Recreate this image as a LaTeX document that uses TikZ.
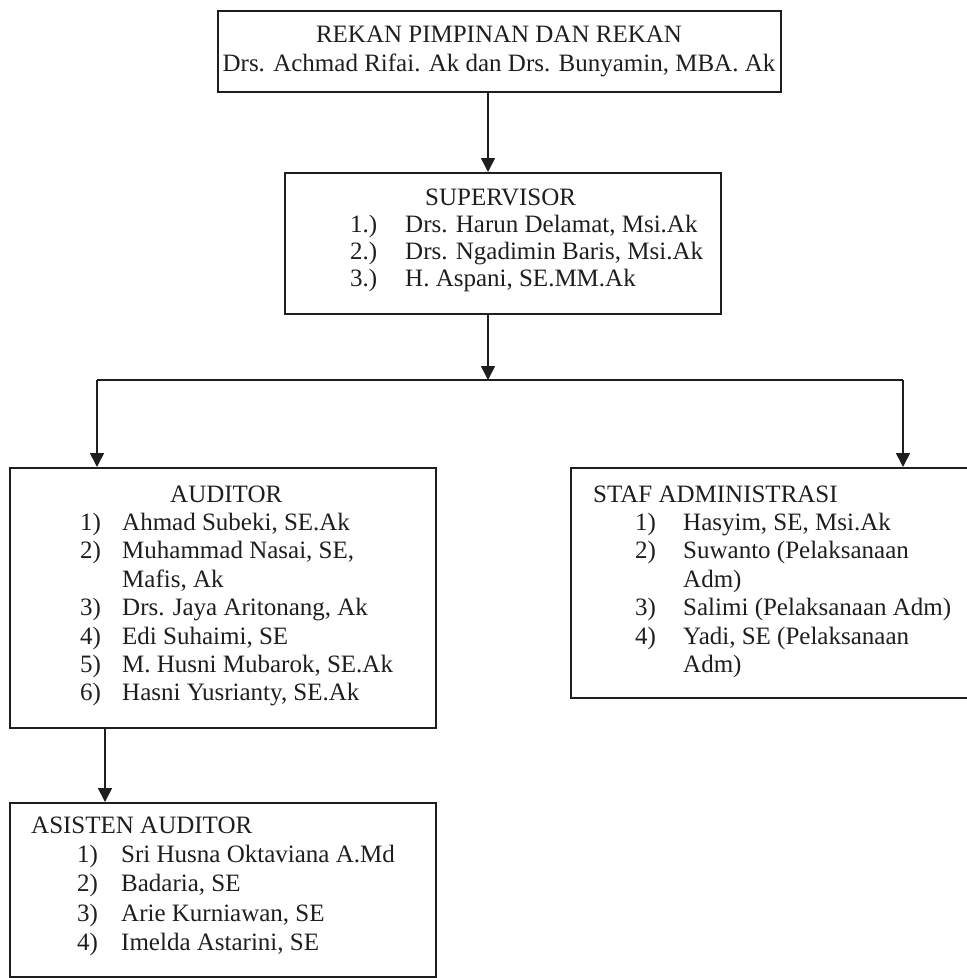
\documentclass[tikz,border=0pt]{standalone}
\usepackage{fontspec}
\setmainfont{Liberation Serif}
\usetikzlibrary{arrows.meta}
\definecolor{ink}{HTML}{1E1E1E}
\begin{document}
\begin{tikzpicture}[x=1pt,y=-1pt,
  box/.style={draw=ink,line width=1.8pt,rectangle,inner sep=0pt,anchor=north west},
  txt/.style={anchor=base west,inner sep=0pt,text=ink,font=\fontsize{25}{30}\selectfont},
  ctxt/.style={anchor=base,inner sep=0pt,text=ink,font=\fontsize{25}{30}\selectfont},
  conn/.style={draw=ink,line width=1.6pt},
  arr/.style={conn,-{Triangle[length=14pt,width=14pt]}}]
\useasboundingbox (0,0) rectangle (967,978);

% boxes
\node[box,minimum width=563pt,minimum height=81pt] (top) at (217,10) {};
\node[box,minimum width=436pt,minimum height=141pt] (sup) at (284,172) {};
\node[box,minimum width=426pt,minimum height=260pt] (aud) at (9,467) {};
\node[box,minimum width=397pt,minimum height=230pt] (staf) at (570,467) {};
\node[box,minimum width=426pt,minimum height=174pt] (asis) at (9,802) {};

% top box text
\node[ctxt] (t1) at (499,42.5) {REKAN PIMPINAN DAN REKAN};
\node[ctxt] (t2) at (499,71) {Drs. Achmad Rifai. Ak dan Drs. Bunyamin, MBA. Ak};

% supervisor text
\node[txt] (s0) at (425,205) {SUPERVISOR};
\node[txt] (s1n) at (350,232) {1.)};
\node[txt] (s1) at (405,232) {Drs. Harun Delamat, Msi.Ak};
\node[txt] (s2n) at (350,259) {2.)};
\node[txt] (s2) at (405,259) {Drs. Ngadimin Baris, Msi.Ak};
\node[txt] (s3n) at (350,286) {3.)};
\node[txt] (s3) at (405,286) {H. Aspani, SE.MM.Ak};

% auditor text
\node[txt] (a0) at (170,502) {AUDITOR};
\node[txt] (a1n) at (80,530.4) {1)};
\node[txt] (a1) at (122,530.4) {Ahmad Subeki, SE.Ak};
\node[txt] (a2n) at (80,558.8) {2)};
\node[txt] (a2) at (122,558.8) {Muhammad Nasai, SE,};
\node[txt] (a2b) at (122,587.2) {Mafis, Ak};
\node[txt] (a3n) at (80,615.6) {3)};
\node[txt] (a3) at (122,615.6) {Drs. Jaya Aritonang, Ak};
\node[txt] (a4n) at (80,644) {4)};
\node[txt] (a4) at (122,644) {Edi Suhaimi, SE};
\node[txt] (a5n) at (80,672.4) {5)};
\node[txt] (a5) at (122,672.4) {M. Husni Mubarok, SE.Ak};
\node[txt] (a6n) at (80,700.8) {6)};
\node[txt] (a6) at (122,700.8) {Hasni Yusrianty, SE.Ak};

% staf text
\node[txt] (f0) at (593,502) {STAF ADMINISTRASI};
\node[txt] (f1n) at (635,530.4) {1)};
\node[txt] (f1) at (683,530.4) {Hasyim, SE, Msi.Ak};
\node[txt] (f2n) at (635,558.8) {2)};
\node[txt] (f2) at (683,558.8) {Suwanto (Pelaksanaan};
\node[txt] (f2b) at (683,587.2) {Adm)};
\node[txt] (f3n) at (635,615.6) {3)};
\node[txt] (f3) at (683,615.6) {Salimi (Pelaksanaan Adm)};
\node[txt] (f4n) at (635,644) {4)};
\node[txt] (f4) at (683,644) {Yadi, SE (Pelaksanaan};
\node[txt] (f4b) at (683,672.4) {Adm)};

% asisten text
\node[txt] (h0) at (31,833) {ASISTEN AUDITOR};
\node[txt] (h1n) at (77,862) {1)};
\node[txt] (h1) at (121,862) {Sri Husna Oktaviana A.Md};
\node[txt] (h2n) at (77,891.5) {2)};
\node[txt] (h2) at (121,891.5) {Badaria, SE};
\node[txt] (h3n) at (77,921) {3)};
\node[txt] (h3) at (121,921) {Arie Kurniawan, SE};
\node[txt] (h4n) at (77,950) {4)};
\node[txt] (h4) at (121,950) {Imelda Astarini, SE};

% connectors
\coordinate (j) at (488,380);
\coordinate (jl) at (97,380);
\coordinate (jr) at (903,380);
\coordinate (ja) at (105,0);
\draw[arr] (top.south -| j) -- (sup.north -| j);
\draw[arr] (sup.south -| j) -- (j);
\draw[conn] (jl) -- (jr);
\draw[arr] (jl) -- (aud.north -| jl);
\draw[arr] (jr) -- (staf.north -| jr);
\draw[arr] (aud.south -| ja) -- (asis.north -| ja);
\end{tikzpicture}
\end{document}
